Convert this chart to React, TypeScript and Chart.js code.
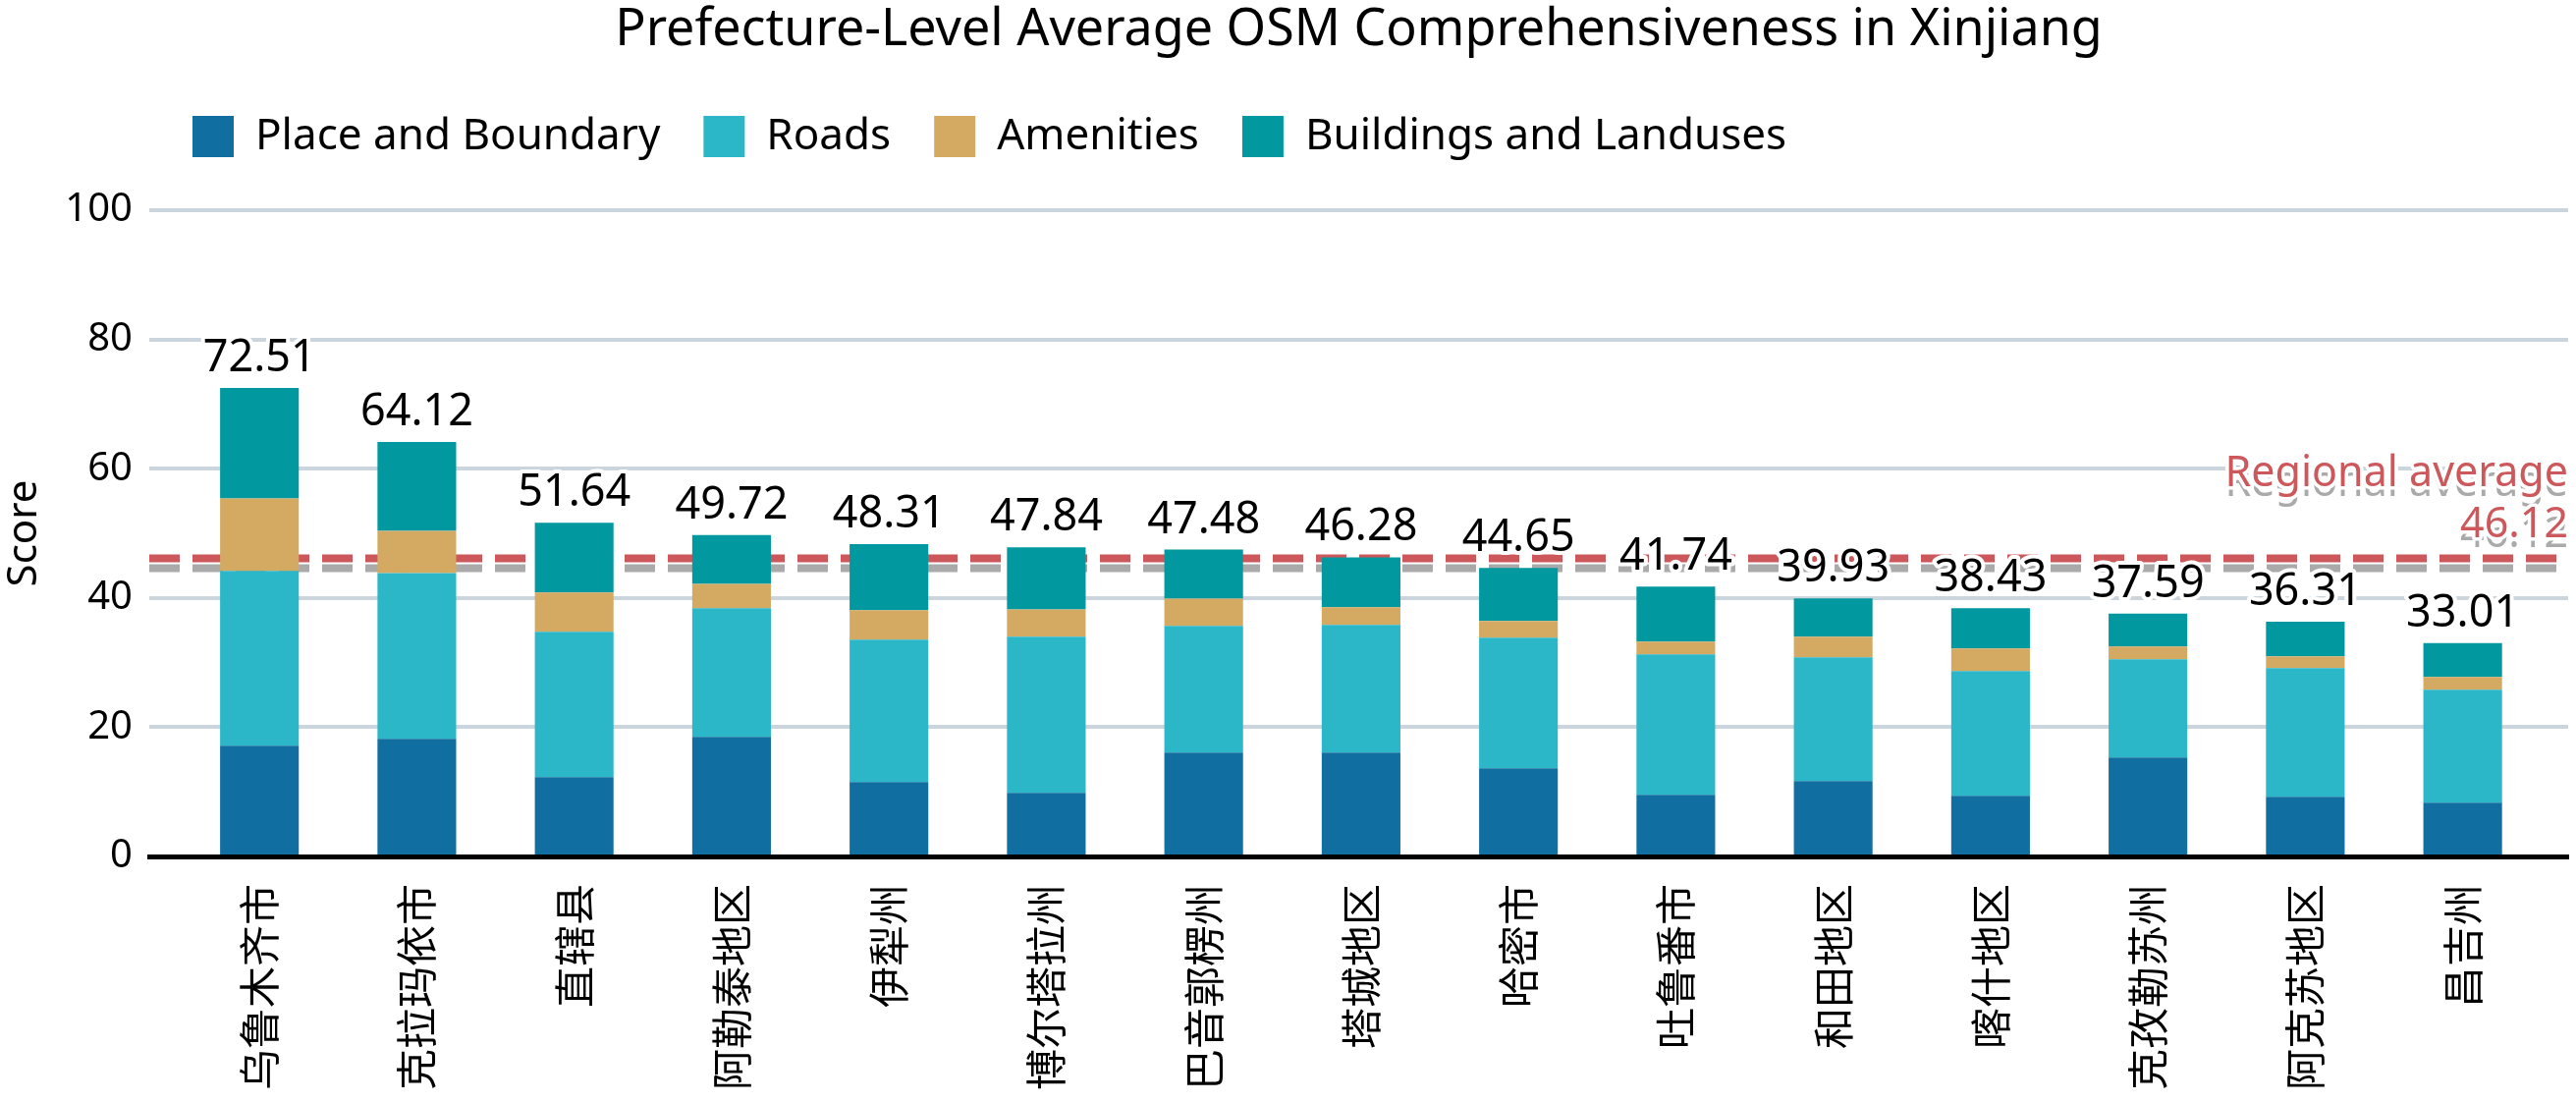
import React, { useEffect, useRef } from 'react';
import { Chart, registerables } from 'chart.js';

Chart.register(...registerables);

const categories = [
  '乌鲁木齐市', '克拉玛依市', '直辖县', '阿勒泰地区', '伊犁州',
  '博尔塔拉州', '巴音郭楞州', '塔城地区', '哈密市', '吐鲁番市',
  '和田地区', '喀什地区', '克孜勒苏州', '阿克苏地区', '昌吉州',
];
const placeBoundary = [17.13, 18.2, 12.28, 18.5, 11.52, 9.85, 16.07, 16.07, 13.64, 9.54, 11.67, 9.39, 15.31, 9.24, 8.33];
const roads = [27.04, 25.66, 22.47, 19.9, 22.02, 24.14, 19.59, 19.74, 20.2, 21.72, 19.14, 19.29, 15.19, 19.89, 17.46];
const amenities = [11.24, 6.53, 6.08, 3.79, 4.55, 4.25, 4.25, 2.74, 2.59, 1.97, 3.19, 3.49, 1.97, 1.82, 1.98];
const buildings = [17.1, 13.73, 10.81, 7.53, 10.22, 9.6, 7.57, 7.73, 8.22, 8.51, 5.93, 6.26, 5.12, 5.36, 5.24];
const totals = [72.51, 64.12, 51.64, 49.72, 48.31, 47.84, 47.48, 46.28, 44.65, 41.74, 39.93, 38.43, 37.59, 36.31, 33.01];
const regionalAverage = 46.12;
const yTicks = [0, 20, 40, 60, 80, 100];

const seriesLabels = ['Place and Boundary', 'Roads', 'Amenities', 'Buildings and Landuses'];
const seriesColors = ['#116ea1', '#2cb7c8', '#d4aa62', '#01999f'];

const FONT = "'Noto Sans', 'Noto Sans CJK SC', sans-serif";
const CJK = "'Noto Sans CJK SC', 'Noto Sans', sans-serif";

const refLinePlugin = {
  id: 'refLine',
  beforeDatasetsDraw(chart: any) {
    const { ctx, chartArea } = chart;
    const y = chart.scales.y.getPixelForValue(regionalAverage);
    ctx.save();
    const dash = (yy: number, color: string) => {
      ctx.beginPath();
      ctx.setLineDash([31, 13]);
      ctx.lineCap = 'butt';
      ctx.moveTo(chartArea.left, yy);
      ctx.lineTo(chartArea.right, yy);
      ctx.strokeStyle = '#ffffff';
      ctx.lineWidth = 11;
      ctx.stroke();
      ctx.strokeStyle = color;
      ctx.lineWidth = 8;
      ctx.stroke();
    };
    dash(y + 10, '#aaaaaa');
    dash(y, '#cd585c');
    ctx.restore();
  },
  afterDatasetsDraw(chart: any) {
    const { ctx, chartArea } = chart;
    ctx.save();
    ctx.setLineDash([]);
    ctx.lineJoin = 'round';
    const meta = chart.getDatasetMeta(chart.data.datasets.length - 1);
    ctx.font = `45px ${FONT}`;
    ctx.textAlign = 'center';
    ctx.textBaseline = 'alphabetic';
    totals.forEach((t, i) => {
      const el = meta.data[i];
      if (!el) return;
      const tx = el.x;
      const ty = el.y - 17;
      const s = t.toFixed(2);
      ctx.strokeStyle = '#ffffff';
      ctx.lineWidth = 8;
      ctx.strokeText(s, tx, ty);
      ctx.fillStyle = '#000000';
      ctx.fillText(s, tx, ty);
    });
    const y = chart.scales.y.getPixelForValue(regionalAverage);
    const lines = ['Regional average', regionalAverage.toFixed(2)];
    ctx.font = `43px ${FONT}`;
    ctx.textAlign = 'right';
    const rx = chartArea.right;
    const drawLabel = (dx: number, dy: number, color: string) => {
      lines.forEach((ln, k) => {
        const ly = y - 22 - (lines.length - 1 - k) * 52 + dy;
        ctx.strokeStyle = '#ffffff';
        ctx.lineWidth = 7;
        ctx.strokeText(ln, rx + dx, ly);
        ctx.fillStyle = color;
        ctx.fillText(ln, rx + dx, ly);
      });
    };
    drawLabel(0, 10, '#aaaaaa');
    drawLabel(0, 0, '#cd585c');
    ctx.restore();
  },
};

const legendShiftPlugin = {
  id: 'legendShift',
  afterLayout(chart: any) {
    const lg = chart.legend;
    if (lg) {
      lg.top -= 43;
      lg.bottom -= 43;
    }
  },
};

export default function App() {
  const canvasRef = useRef<HTMLCanvasElement | null>(null);

  useEffect(() => {
    document.body.style.margin = '0';
    const canvas = canvasRef.current;
    if (!canvas) return;
    Chart.defaults.font.family = FONT;
    Chart.defaults.color = '#000000';
    const series = [placeBoundary, roads, amenities, buildings];
    const chart = new Chart(canvas, {
      type: 'bar',
      data: {
        datasets: series.map((arr, k) => ({
          label: seriesLabels[k],
          data: arr.map((v, i) => ({ x: i, y: v })),
          backgroundColor: seriesColors[k],
          borderWidth: 0,
          stack: 'total',
          categoryPercentage: 1,
          barPercentage: 0.5,
        })),
      },
      options: {
        animation: false,
        responsive: false,
        devicePixelRatio: 1,
        layout: { padding: { left: 0, right: 8, top: 0, bottom: 0 } },
        scales: {
          x: {
            type: 'linear',
            offset: false,
            min: -0.7,
            max: 14.67,
            grid: { display: false, drawTicks: false },
            border: { display: true, color: '#000000', width: 5 },
            afterBuildTicks: (scale: any) => {
              scale.ticks = categories.map((_, i) => ({ value: i }));
            },
            afterFit: (scale: any) => {
              scale.height = 250;
            },
            ticks: {
              autoSkip: false,
              maxRotation: 90,
              minRotation: 90,
              padding: 28,
              color: '#000000',
              font: { size: 42, family: CJK },
              callback: (v: any) => categories[v as number] ?? '',
            },
          },
          y: {
            stacked: true,
            min: 0,
            max: 100,
            afterBuildTicks: (scale: any) => {
              scale.ticks = yTicks.map((v) => ({ value: v }));
            },
            afterFit: (scale: any) => {
              scale.width = 152;
            },
            grid: { color: '#cbd5dd', lineWidth: 4, drawTicks: false },
            border: { display: false },
            ticks: { padding: 17, color: '#000000', font: { size: 40 } },
            title: {
              display: true,
              text: 'Score',
              color: '#000000',
              font: { size: 42 },
              padding: { top: 0, bottom: 17 },
            },
          },
        },
        plugins: {
          title: {
            display: true,
            text: 'Prefecture-Level Average OSM Comprehensiveness in Xinjiang',
            color: '#000000',
            fullSize: false,
            font: { size: 52, weight: 'normal' },
            padding: { top: 0, bottom: 53.6 },
          },
          legend: {
            display: true,
            position: 'top',
            align: 'start',
            fullSize: false,
            labels: {
              boxWidth: 42,
              boxHeight: 42,
              padding: 44,
              color: '#000000',
              font: { size: 44 },
            },
          },
          tooltip: { enabled: false },
        },
      } as any,
      plugins: [refLinePlugin, legendShiftPlugin],
    });
    return () => chart.destroy();
  }, []);

  return (
    <div style={{ width: 2623, height: 1122 }}>
      <canvas ref={canvasRef} width={2623} height={1122} style={{ display: 'block' }} />
    </div>
  );
}
